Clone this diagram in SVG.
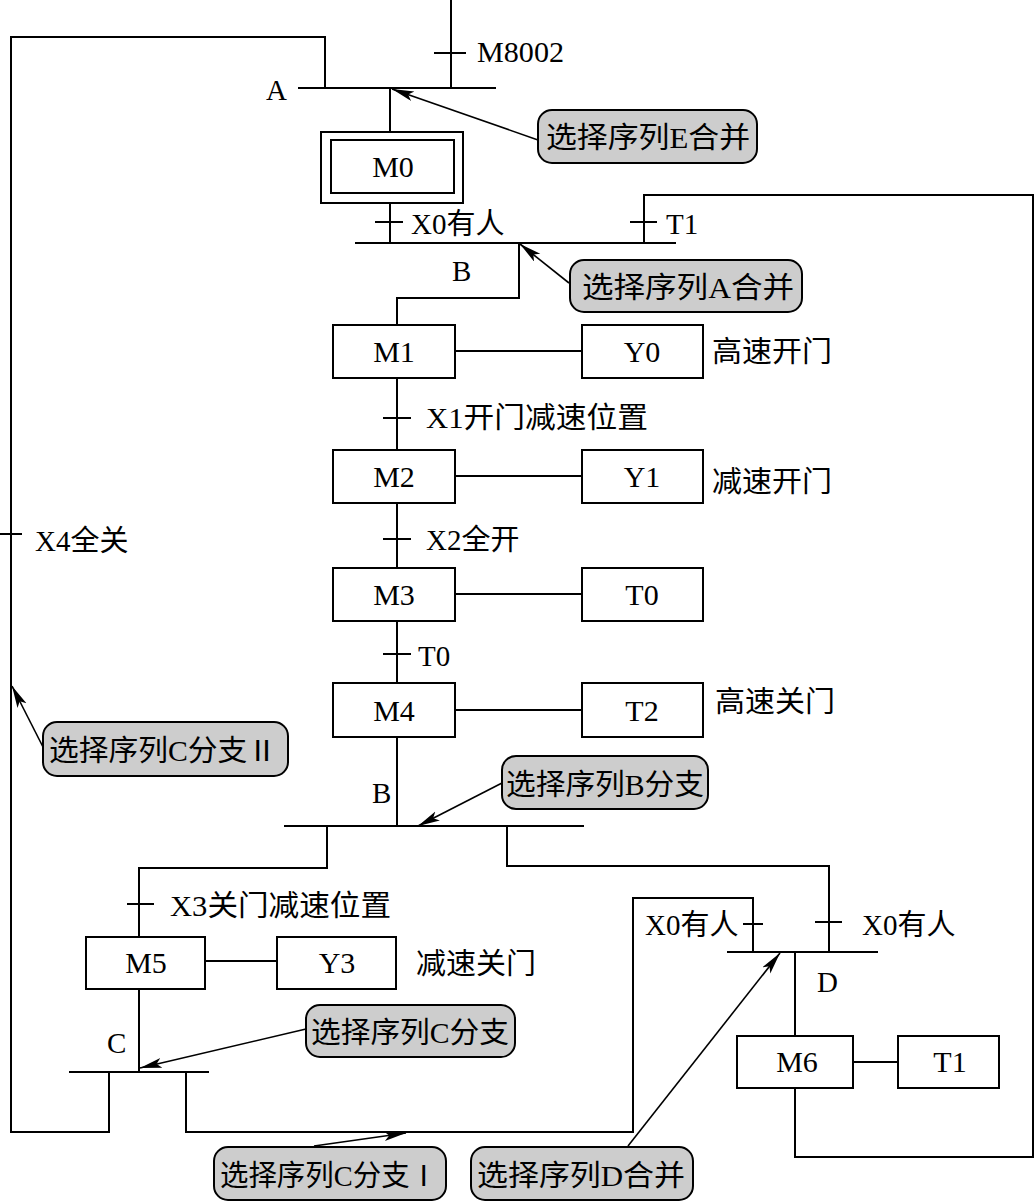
<svg xmlns="http://www.w3.org/2000/svg" width="1035" height="1201" viewBox="0 0 1035 1201">
<style>
.ln{fill:none;stroke:#000;stroke-width:2}
.bx{fill:#fff;stroke:#000;stroke-width:2}
.co{fill:#cdcdcd;stroke:#000;stroke-width:2}
.ar{fill:none;stroke:#000;stroke-width:1.6}
text{font-family:"Liberation Serif","Noto Sans CJK SC",serif;font-size:29px;fill:#000}
.c{text-anchor:middle;font-size:30px}
</style>
<defs>
<marker id="ah" markerUnits="userSpaceOnUse" markerWidth="24" markerHeight="12" refX="22" refY="5" orient="auto">
<path d="M0,0 L22,5 L0,10 L5,5 z" fill="#000"/>
</marker>
</defs>
<rect width="1035" height="1201" fill="#fff"/>
<g id="connectors">
<path class="ln" d="M451,0 V88 M434,53 H466 M298,88 H496"/>
<path class="ln" d="M325,88 V37 H11 V1132 H109 V1072 M0,534 H22"/>
<path class="ln" d="M390,88 V132 M390,203 V243 M375,222 H403 M355,243 H676"/>
<path class="ln" d="M644,243 V195 H1033 V1157 H795 V1088 M630,222 H657"/>
<path class="ln" d="M519,243 V298 H397 V325"/>
<path class="ln" d="M455,351 H582 M397,378 V450 M383,418 H411"/>
<path class="ln" d="M455,476 H582 M397,503 V568 M383,539 H411"/>
<path class="ln" d="M455,594 H582 M397,621 V683 M383,654 H411"/>
<path class="ln" d="M455,710 H582 M397,737 V826 M284,826 H584"/>
<path class="ln" d="M327,826 V868 H139 V937 M127,904 H154"/>
<path class="ln" d="M507,826 V866 H829 V952 M815,922 H842"/>
<path class="ln" d="M205,961 H277 M139,989 V1072 M69,1072 H209"/>
<path class="ln" d="M186,1072 V1132 H633 V898 H753 V952 M743,924 H763"/>
<path class="ln" d="M727,952 H878 M795,952 V1036 M853,1062 H898"/>
<path class="ar" marker-end="url(#ah)" d="M538,140 L392,89"/>
<path class="ar" marker-end="url(#ah)" d="M569,283 L520,244"/>
<path class="ar" marker-end="url(#ah)" d="M502,783 L418,826"/>
<path class="ar" marker-end="url(#ah)" d="M43,747 L12,686"/>
<path class="ar" marker-end="url(#ah)" d="M306,1029 L140,1068"/>
<path class="ar" marker-end="url(#ah)" d="M314,1146 L406,1133"/>
<path class="ar" marker-end="url(#ah)" d="M628,1146 L780,953"/>
</g>
<g id="labels">
<text x="477" y="62" textLength="87" lengthAdjust="spacingAndGlyphs">M8002</text>
<text x="266" y="100">A</text>
<text x="411" y="234">X0有人</text>
<text x="666" y="234">T1</text>
<text x="452" y="281">B</text>
<text x="712" y="362" textLength="120" lengthAdjust="spacingAndGlyphs">高速开门</text>
<text x="426" y="428" textLength="222" lengthAdjust="spacingAndGlyphs">X1开门减速位置</text>
<text x="712" y="492" textLength="120" lengthAdjust="spacingAndGlyphs">减速开门</text>
<text x="426" y="550">X2全开</text>
<text x="418" y="666">T0</text>
<text x="715" y="712" textLength="120" lengthAdjust="spacingAndGlyphs">高速关门</text>
<text x="35" y="551">X4全关</text>
<text x="372" y="803">B</text>
<text x="170" y="916" textLength="221" lengthAdjust="spacingAndGlyphs">X3关门减速位置</text>
<text x="416" y="974" textLength="120" lengthAdjust="spacingAndGlyphs">减速关门</text>
<text x="107" y="1053">C</text>
<text x="645" y="935">X0有人</text>
<text x="862" y="935">X0有人</text>
<text x="817" y="992">D</text>
</g>
<g id="M0"><rect class="bx" x="321" y="132" width="142" height="71"/><rect class="bx" x="331" y="140" width="123" height="53"/><text class="c" x="393" y="177">M0</text></g>
<g id="M1"><rect class="bx" x="333" y="325" width="122" height="53"/><text class="c" x="394" y="362">M1</text></g>
<g id="Y0"><rect class="bx" x="582" y="325" width="121" height="53"/><text class="c" x="642" y="362">Y0</text></g>
<g id="M2"><rect class="bx" x="333" y="450" width="122" height="53"/><text class="c" x="394" y="487">M2</text></g>
<g id="Y1"><rect class="bx" x="582" y="450" width="121" height="53"/><text class="c" x="642" y="487">Y1</text></g>
<g id="M3"><rect class="bx" x="333" y="568" width="122" height="53"/><text class="c" x="394" y="605">M3</text></g>
<g id="T0"><rect class="bx" x="582" y="568" width="121" height="53"/><text class="c" x="642" y="605">T0</text></g>
<g id="M4"><rect class="bx" x="333" y="683" width="122" height="54"/><text class="c" x="394" y="721">M4</text></g>
<g id="T2"><rect class="bx" x="582" y="683" width="121" height="54"/><text class="c" x="642" y="721">T2</text></g>
<g id="M5"><rect class="bx" x="86" y="937" width="119" height="52"/><text class="c" x="146" y="973">M5</text></g>
<g id="Y3"><rect class="bx" x="277" y="937" width="119" height="52"/><text class="c" x="337" y="973">Y3</text></g>
<g id="M6"><rect class="bx" x="737" y="1036" width="116" height="52"/><text class="c" x="797" y="1072">M6</text></g>
<g id="T1"><rect class="bx" x="898" y="1036" width="101" height="52"/><text class="c" x="950" y="1072">T1</text></g>
<g id="callout-E"><rect class="co" x="538" y="110" width="219" height="53" rx="14"/><text x="546" y="148" textLength="204" lengthAdjust="spacingAndGlyphs">选择序列E合并</text></g>
<g id="callout-A"><rect class="co" x="570" y="260" width="232" height="52" rx="14"/><text x="582" y="298" textLength="212" lengthAdjust="spacingAndGlyphs">选择序列A合并</text></g>
<g id="callout-B"><rect class="co" x="502" y="756" width="206" height="53" rx="14"/><text x="506" y="795" textLength="198" lengthAdjust="spacingAndGlyphs">选择序列B分支</text></g>
<g id="callout-CII"><rect class="co" x="43" y="722" width="245" height="54" rx="14"/><text x="49" y="761" textLength="228" lengthAdjust="spacingAndGlyphs">选择序列C分支Ⅱ</text></g>
<g id="callout-C"><rect class="co" x="306" y="1005" width="209" height="52" rx="14"/><text x="311" y="1043" textLength="198" lengthAdjust="spacingAndGlyphs">选择序列C分支</text></g>
<g id="callout-CI"><rect class="co" x="214" y="1147" width="232" height="53" rx="14"/><text x="220" y="1186" textLength="218" lengthAdjust="spacingAndGlyphs">选择序列C分支Ⅰ</text></g>
<g id="callout-D"><rect class="co" x="471" y="1147" width="222" height="53" rx="14"/><text x="477" y="1186" textLength="208" lengthAdjust="spacingAndGlyphs">选择序列D合并</text></g>
</svg>
